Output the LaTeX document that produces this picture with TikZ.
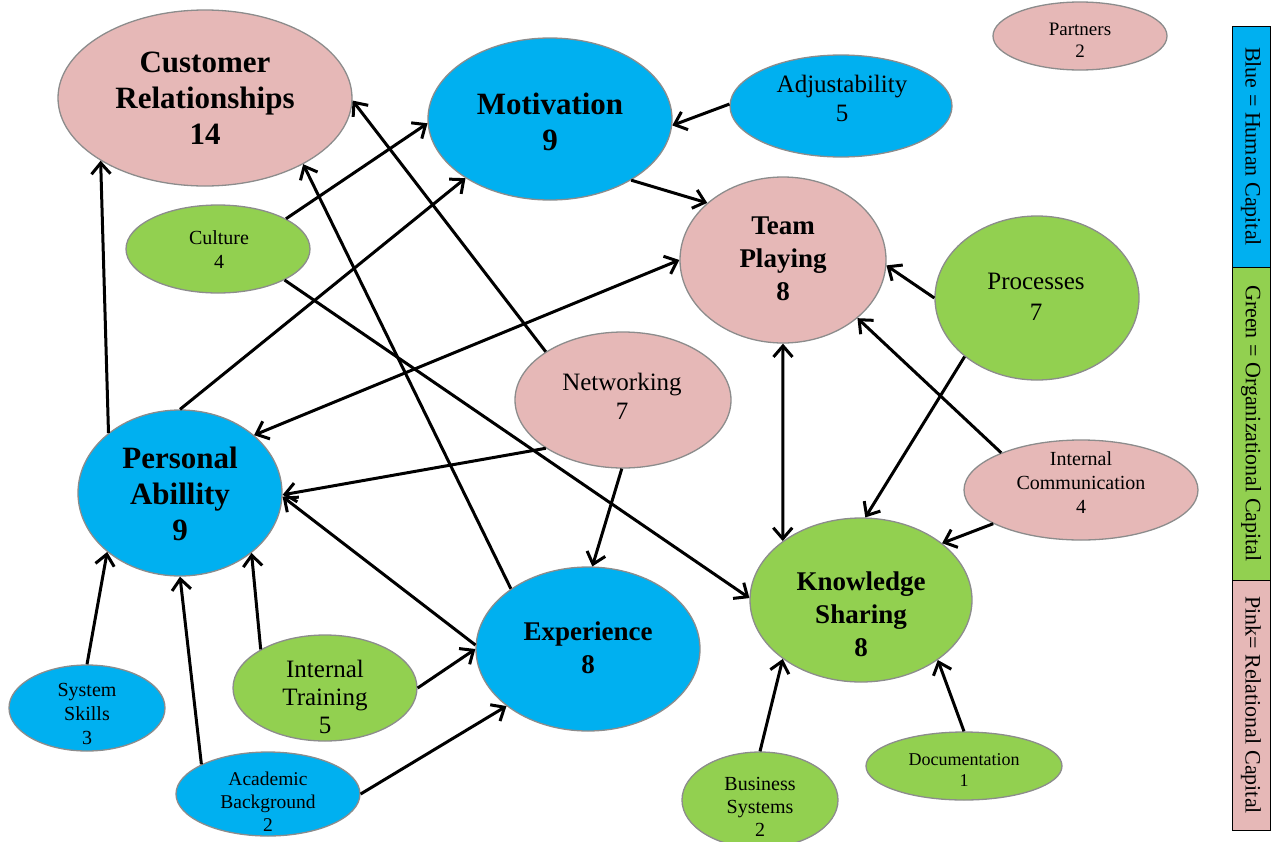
\documentclass[tikz,border=0pt]{standalone}
\usepackage{fontspec}
\setmainfont{Liberation Serif}
\usetikzlibrary{shapes.geometric,arrows.meta}
\definecolor{hcblue}{RGB}{0,176,240}
\definecolor{ocgreen}{RGB}{146,208,80}
\definecolor{rcpink}{RGB}{230,184,183}

\begin{document}
\begin{tikzpicture}[x=1pt,y=-1pt,
  bubble/.style={ellipse, draw=black!45, line width=1.3pt, inner sep=0pt},
  human/.style={bubble, fill=hcblue},
  org/.style={bubble, fill=ocgreen},
  rel/.style={bubble, fill=rcpink},
  sz/.style 2 args={minimum width=#1pt, minimum height=#2pt},
  lbl/.style={inner sep=0pt, align=center, text=black},
  hugelbl/.style={lbl, font=\fontsize{31}{36}\selectfont\bfseries},
  biglbl/.style={lbl, font=\fontsize{27}{33}\selectfont\bfseries},
  midlbl/.style={lbl, font=\fontsize{25}{29}\selectfont},
  smalllbl/.style={lbl, font=\fontsize{20}{24}\selectfont},
  tip/.tip={Straight Barb[length=11pt,width=19pt]},
  link/.style={line width=3pt, -tip},
  twoway/.style={line width=3pt, tip-tip},
  keybox/.style={draw=black, line width=0.8pt, rotate=-90, minimum height=38pt,
    inner sep=0pt, font=\fontsize{22}{26}\selectfont},
]
\useasboundingbox (0,0) rectangle (1272,841);

% ---- capital bubbles ----
\node[rel,   sz={294}{176}] (cr) at (205,98)  {};
\node[human, sz={244}{162}] (mo) at (550,119) {};
\node[human, sz={222}{102}] (ad) at (841,106) {};
\node[rel,   sz={174}{68}]  (pt) at (1080,36) {};
\node[org,   sz={184}{88}]  (cu) at (218,249) {};
\node[rel,   sz={206}{166}] (tp) at (783,260) {};
\node[org,   sz={204}{164}] (pr) at (1037,298) {};
\node[rel,   sz={216}{136}] (nw) at (623,400) {};
\node[human, sz={204}{166}] (pa) at (180,493) {};
\node[rel,   sz={234}{100}] (ic) at (1081,490) {};
\node[org,   sz={222}{164}] (ks) at (861,600) {};
\node[human, sz={224}{164}] (ex) at (588,649) {};
\node[org,   sz={184}{106}] (it) at (325,688) {};
\node[human, sz={156}{86}]  (ss) at (87,708)  {};
\node[human, sz={184}{84}]  (ab) at (268,794) {};
\node[org,   sz={156}{96}]  (bs) at (760,800) {};
\node[org,   sz={196}{68}]  (dc) at (964,766) {};

% ---- bubble texts ----
\node[hugelbl] (cr-t) at (205,98)  {Customer\\Relationships\\14};
\node[hugelbl] (mo-t) at (550,122) {Motivation\\9};
\node[midlbl]  (ad-t) at (842,98)  {Adjustability\\5};
\node[lbl, font=\fontsize{19}{22}\selectfont] (pt-t) at (1080,40) {Partners\\2};
\node[smalllbl] (cu-t) at (219,250) {Culture\\4};
\node[biglbl]  (tp-t) at (783,259) {Team\\Playing\\8};
\node[lbl, font=\fontsize{25}{31}\selectfont] (pr-t) at (1036,297) {Processes\\7};
\node[midlbl]  (nw-t) at (622,396) {Networking\\7};
\node[hugelbl] (pa-t) at (180,494) {Personal\\Abillity\\9};
\node[smalllbl] (ic-t) at (1081,483) {Internal\\Communication\\4};
\node[biglbl]  (ks-t) at (861,614) {Knowledge\\Sharing\\8};
\node[biglbl]  (ex-t) at (588,648) {Experience\\8};
\node[lbl, font=\fontsize{25}{28}\selectfont] (it-t) at (325,697) {Internal\\Training\\5};
\node[smalllbl] (ss-t) at (87,714)  {System\\Skills\\3};
\node[lbl, font=\fontsize{19.5}{23}\selectfont] (ab-t) at (268,802) {Academic\\Background\\2};
\node[lbl, font=\fontsize{20}{23}\selectfont] (bs-t) at (760,807) {Business\\Systems\\2};
\node[lbl, font=\fontsize{18}{20.5}\selectfont] (dc-t) at (964,770) {Documentation\\1};

% ---- influences ----
\draw[link] (pa.140.6) -- (cr.211.8);
\draw[link] (cu.24.8)  -- (mo.182.9);
\draw[link] (mo.323.8) -- (tp.143.3);
\draw[link] (ad.179)   -- (mo.357.2);
\draw[link] (nw.148.4) -- (cr.359.2);
\draw[link] (ex.142.2) -- (cr.326.7);
\draw[link] (pa.90)    -- (mo.215);
\draw[twoway] (tp.180) -- (pa.38.9);
\draw[link] (cu.335.2) -- (ks.179);
\draw[link] (nw.212.7) -- (pa.359);
\draw[link] (nw.269)   -- (ex.87.3);
\draw[link] (pr.180)   -- (tp.357.3);
\draw[link] (pr.219.3) -- (ks.87.3);
\draw[link] (ic.155)   -- (tp.322.3);
\draw[link] (ic.201)   -- (ks.35.6);
\draw[twoway] (tp.270) -- (ks.143.2);
\draw[link] (ex.178)   -- (pa.358);
\draw[link] (it.149.2) -- (pa.320.2);
\draw[link] (it.0)     -- (ex.180.5);
\draw[link] (ss.90)    -- (pa.219);
\draw[link] (ab.156)   -- (pa.270);
\draw[link] (ab.0)     -- (ex.215.7);
\draw[link] (bs.90)    -- (ks.217.2);
\draw[link] (dc.90)    -- (ks.322.8);

% ---- colour key ----
\node[keybox, fill=hcblue,  minimum width=241pt] (key-h) at (1251,146.5) {Blue = Human Capital};
\node[keybox, fill=ocgreen, minimum width=313pt] (key-o) at (1251,423.5) {Green = Organizational Capital};
\node[keybox, fill=rcpink,  minimum width=250pt] (key-r) at (1251,705)   {Pink= Relational Capital};
\end{tikzpicture}
\end{document}
